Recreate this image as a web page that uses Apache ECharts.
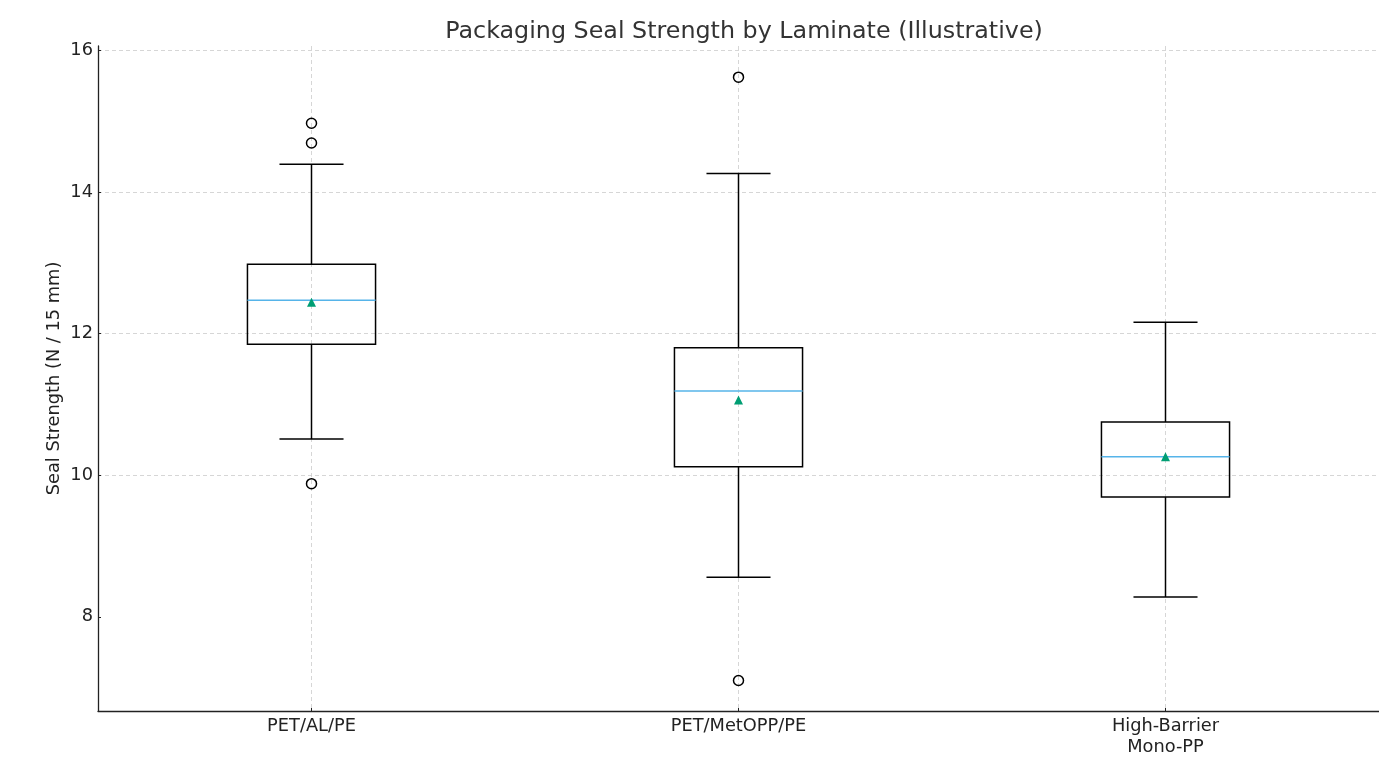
<!DOCTYPE html>
<html>
<head>
<meta charset="utf-8">
<title>Packaging Seal Strength by Laminate</title>
<script src="https://cdn.jsdelivr.net/npm/echarts@6/dist/echarts.min.js"></script>
<style>
  html, body { margin: 0; padding: 0; background: #fff; }
  #chart { width: 1379px; height: 761px; }
</style>
</head>
<body>
<div id="chart"></div>
<script>
// categories and box stats
const laminates = ['PET/AL/PE', 'PET/MetOPP/PE', 'High-Barrier\nMono-PP'];
const whiskerLow = [10.51, 8.56, 8.28];
const q1 = [11.85, 10.12, 9.69];
const median = [12.47, 11.19, 10.26];
const q3 = [12.98, 11.80, 10.75];
const whiskerHigh = [14.39, 14.26, 12.16];
const means = [12.44, 11.06, 10.26];
// outliers as [categoryIndex, value]
const outliers = [[0, 14.97], [0, 14.69], [0, 9.88], [1, 15.62], [1, 7.10]];
const yTicks = [8, 10, 12, 14, 16];

const fontFamily = 'DejaVu Sans, sans-serif';

let boxData = laminates.map((name, i) => [i, whiskerLow[i], q1[i], median[i], q3[i], whiskerHigh[i]]);

function renderBox(params, api) {
    const idx = api.value(0);
    const band = api.size([1, 0])[0];
    const boxW = band * 0.3;
    const capW = boxW / 2;
    const lo = api.coord([idx, api.value(1)]);
    const b1 = api.coord([idx, api.value(2)]);
    const md = api.coord([idx, api.value(3)]);
    const b3 = api.coord([idx, api.value(4)]);
    const hi = api.coord([idx, api.value(5)]);
    const x = lo[0];
    const black = { stroke: '#000', lineWidth: 1.5, fill: null };
    return {
        type: 'group',
        children: [
            { type: 'line', shape: { x1: x, y1: b1[1], x2: x, y2: lo[1] }, style: black },
            { type: 'line', shape: { x1: x, y1: b3[1], x2: x, y2: hi[1] }, style: black },
            { type: 'line', shape: { x1: x - capW / 2, y1: lo[1], x2: x + capW / 2, y2: lo[1] }, style: black },
            { type: 'line', shape: { x1: x - capW / 2, y1: hi[1], x2: x + capW / 2, y2: hi[1] }, style: black },
            { type: 'rect', shape: { x: x - boxW / 2, y: b3[1], width: boxW, height: b1[1] - b3[1] }, style: { stroke: '#000', lineWidth: 1.5, fill: 'rgba(0,0,0,0)' } },
            { type: 'line', shape: { x1: x - boxW / 2, y1: md[1], x2: x + boxW / 2, y2: md[1] }, style: { stroke: '#56B4E9', lineWidth: 1.5 } }
        ]
    };
}

const chart = echarts.init(document.getElementById('chart'));
chart.setOption({
    animation: false,
    backgroundColor: '#fff',
    title: {
        text: 'Packaging Seal Strength by Laminate (Illustrative)',
        left: 739,
        top: 15,
        textAlign: 'center',
        textStyle: { fontFamily: fontFamily, fontSize: 23.8, fontWeight: 'normal', color: '#333' }
    },
    grid: { left: 98, right: 0, top: 46, bottom: 50 },
    xAxis: {
        type: 'category',
        data: laminates,
        boundaryGap: true,
        axisLine: { lineStyle: { color: '#222', width: 1.3 } },
        axisTick: { show: true, alignWithLabel: true, inside: true, length: 3, lineStyle: { color: '#222' } },
        axisLabel: { fontFamily: fontFamily, fontSize: 17.8, color: '#222', margin: 5, lineHeight: 21 },
        splitLine: { show: true, alignWithLabel: true, lineStyle: { color: '#ccc', type: [4, 3], width: 0.8 } }
    },
    yAxis: {
        type: 'value',
        min: 6.67,
        max: 16.06,
        splitNumber: 5,
        name: 'Seal Strength (N / 15 mm)',
        nameLocation: 'middle',
        nameGap: 35,
        nameMoveOverlap: false,
        nameTextStyle: { fontFamily: fontFamily, fontSize: 17.8, color: '#222' },
        axisLine: { show: true, lineStyle: { color: '#222', width: 1.3 } },
        axisTick: { show: true, inside: true, length: 3, customValues: yTicks, lineStyle: { color: '#222' } },
        axisLabel: { fontFamily: fontFamily, fontSize: 17.8, color: '#222', margin: 5, customValues: yTicks },
        splitLine: {
            show: true, showMinLine: false, showMaxLine: true, customValues: yTicks,
            lineStyle: { color: '#ccc', type: [4, 3], width: 0.8 }
        }
    },
    series: [
        {
            type: 'custom',
            renderItem: renderBox,
            encode: { x: 0, y: [1, 2, 3, 4, 5] },
            data: boxData,
            z: 2
        },
        {
            type: 'scatter',
            data: outliers,
            symbol: 'circle',
            symbolSize: 10,
            itemStyle: { color: 'rgba(0,0,0,0)', borderColor: '#000', borderWidth: 1.5, opacity: 1 },
            z: 3
        },
        {
            type: 'scatter',
            data: means.map((v, i) => [i, v]),
            symbol: 'triangle',
            symbolSize: 9,
            itemStyle: { color: '#009E73', opacity: 1 },
            z: 4
        }
    ]
});
</script>
</body>
</html>
